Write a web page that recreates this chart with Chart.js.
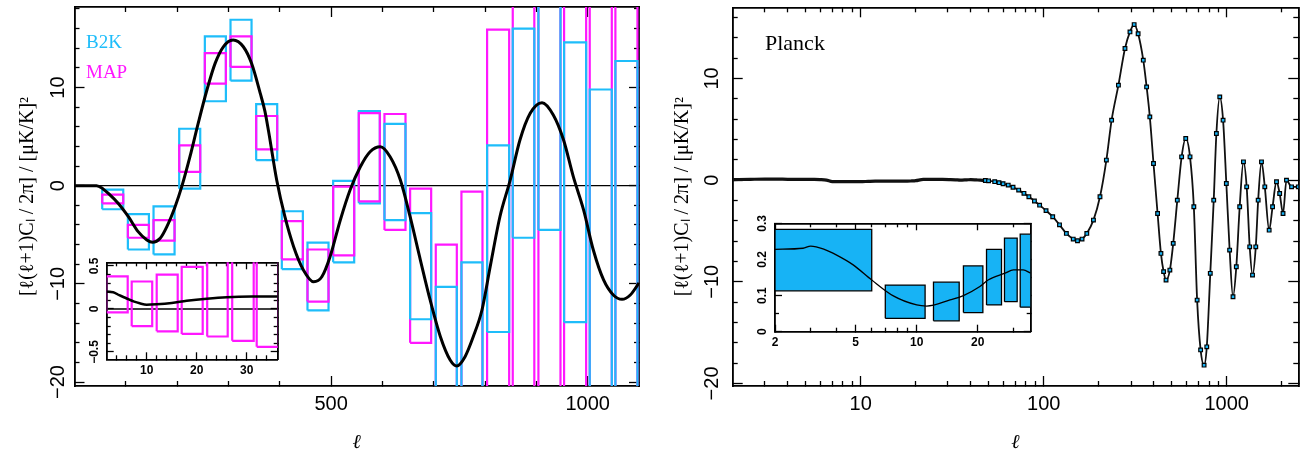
<!DOCTYPE html>
<html lang="en">
<head>
    <meta charset="UTF-8">
    <title>B2K / MAP / Planck</title>
    <script src="https://cdn.jsdelivr.net/npm/chart.js"></script>
    <style>
        body {
            margin: 0;
            width: 1305px;
            height: 455px;
            background: #fff;
            position: relative;
            overflow: hidden;
        }
        .panel {
            position: absolute;
        }
    </style>
</head>
<body>
    <div class="panel" style="left:0;top:0;width:650px;height:455px"><canvas id="left"></canvas></div>
    <div class="panel" style="left:70px;top:250px;width:215px;height:135px"><canvas id="leftInset"></canvas></div>
    <div class="panel" style="left:650px;top:0;width:655px;height:455px"><canvas id="right"></canvas></div>
    <div class="panel" style="left:740px;top:212px;width:300px;height:145px"><canvas id="rightInset"></canvas></div>

    <script>
        // left panel: band powers in bins of l
        const binLo = [54, 104, 154, 204, 254, 304, 354, 404, 454, 504, 554, 604, 654, 704, 754, 804, 854, 904, 954, 1004, 1054];
        const binHi = [95, 145, 195, 245, 295, 345, 395, 445, 495, 545, 595, 645, 695, 745, 795, 847, 896, 947, 997, 1047, 1097];
        const b2kLow  = [-2.4, -6.5, -7.0, -0.3, 8.6, 10.7, 2.6, -8.5, -12.7, -7.8, -1.8, -3.5, -13.6, -30, -30, -14.9, -5.3, -4.5, -13.9, -30, -30];
        const b2kHigh = [-0.4, -2.9, -2.1, 5.8, 15.2, 16.9, 8.3, -2.6, -5.8, 0.5, 7.6, 6.3, -2.8, -10.3, -7.8, 4.1, 16.0, 30, 14.6, 9.8, 12.7];
        const mapLow  = [-1.8, -5.3, -5.6, 1.4, 10.4, 12.1, 3.7, -7.5, -11.8, -7.1, -1.6, -4.5, -16.0, -30, -30, -30, -30, -30, -30, -30, -30];
        const mapHigh = [-0.9, -4.0, -3.5, 4.1, 13.5, 15.2, 7.1, -3.6, -6.5, -0.1, 7.4, 7.3, -0.3, -6.0, -0.6, 15.9, 30, 30, 30, 30, 30];

        const modelL = [0, 20, 43, 55, 66, 85, 105, 124, 141, 152, 167, 180, 196, 209, 225, 241, 258, 274, 290, 309, 329, 345, 362, 371, 378, 394,
                        410, 427, 446, 466, 482, 498, 518, 537, 557, 576, 596, 615, 635, 654, 674, 693, 713, 732, 745, 761, 777, 794,
                        810, 829, 849, 868, 888, 911, 933, 953, 972, 992, 1011, 1031, 1050, 1067, 1083, 1100];
        const modelV = [0, 0, 0, -0.3, -0.78, -1.79, -3.16, -4.68, -5.53, -5.77, -5.36, -4.17, -2.14, -0.1, 2.95, 6.35, 9.75, 12.46, 14.15, 14.84, 14.15, 12.46, 9.4, 7.6, 5.6, 0.58,
                        -3.16, -6.21, -8.58, -9.78, -9.27, -7.23, -3.49, -0.44, 1.93, 3.46, 3.97, 2.95, 0.58, -3.16, -7.57, -11.64, -15.38, -17.75, -18.36, -17.41, -15.38, -12.66,
                        -8.25, -3.16, 0.58, 4.65, 7.37, 8.45, 7.2, 4.65, 0.92, -2.47, -6.55, -9.6, -11.13, -11.57, -11.13, -9.9];

        // left inset: low-l MAP bins
        const lowBinLo = [1.9, 7, 12, 17, 22.1, 27.1, 32];
        const lowBinHi = [6.2, 11.1, 16.2, 21.2, 26.2, 31.4, 36.4];
        const lowMapLow  = [-0.04, -0.20, -0.26, -0.29, -0.32, -0.37, -0.44];
        const lowMapHigh = [0.38, 0.32, 0.40, 0.49, 0.9, 0.9, 0.9];
        const lowModelL = [2, 3.3, 4.5, 5.9, 7.5, 8.6, 10, 12, 15, 18, 22, 26, 31, 36.2];
        const lowModelV = [0.20, 0.195, 0.16, 0.125, 0.085, 0.066, 0.05, 0.055, 0.07, 0.095, 0.12, 0.138, 0.145, 0.145];

        // right panel: Planck
        const planckL = [2, 2.5, 3, 3.5, 4, 4.5, 5, 5.5, 6, 6.5, 7, 7.5, 8, 8.5, 9, 9.5, 10, 11, 12, 13, 14, 15, 16, 17, 18, 19, 20, 22, 24, 26, 28, 31, 33, 35, 38, 40, 43, 45, 48, 50, 54, 57, 60, 64, 68, 73, 78, 83, 89, 95, 103, 112, 122, 133, 145, 153, 162, 172, 187, 203,
                         220, 235, 256, 278, 296, 312, 328, 350, 365, 380, 398, 419, 437, 452, 466, 489, 510, 537, 567, 597, 630, 661, 689, 720, 752, 778,
                         813, 849, 878, 916, 955, 995, 1037, 1082, 1128, 1177, 1234, 1285, 1335, 1383, 1441, 1485, 1548, 1614, 1705, 1780, 1870, 1946, 2030, 2120, 2260, 2460];
        const planckV = [0.05, 0.08, 0.1, 0.1, 0.08, 0.08, 0.08, 0.07, 0.05, 0, -0.15, -0.15, -0.15, -0.15, -0.15, -0.15, -0.15, -0.12, -0.1, -0.1, -0.1, -0.1, -0.1, -0.1, -0.1, -0.08, -0.05, 0.07, 0.07, 0.07, 0.07, 0.05, 0.03, 0, 0.03, 0.05, 0.02, 0, -0.04, -0.07, -0.15, -0.25, -0.35, -0.49, -0.7, -0.98, -1.3, -1.64, -2.05, -2.46, -3.0, -3.6, -4.4, -5.24, -5.8, -5.96, -5.8, -5.24, -3.93, -1.64,
                         1.97, 5.9, 9.34, 12.95, 14.58, 15.3, 14.4, 11.8, 9.17, 6.22, 1.64, -3.28, -7.21, -9.0, -9.83, -8.85, -6.22, -1.97, 2.29, 4.1, 2.29, -2.62, -11.8, -16.7, -18.2, -16.4,
                         -9.17, -1.97, 4.59, 8.19, 5.9, -0.33, -6.88, -11.47, -8.52, -2.62, 1.8, -0.66, -6.56, -9.34, -6.56, -1.97, 1.8, -0.66, -4.92, -2.62, -0.16, -1.31, -3.28, 0, -0.66, -0.66];

        // right inset: low-l Planck bins
        const pBinLo = [2, 7, 12.1, 17, 22.1, 27.1, 32.4];
        const pBinHi = [6, 11, 16.2, 21.2, 26.2, 31.3, 36.5];
        const pLow  = [0.113, 0.037, 0.030, 0.053, 0.074, 0.083, 0.068];
        const pHigh = [0.283, 0.129, 0.137, 0.182, 0.228, 0.259, 0.270];
        const pModelL = [2, 2.75, 3, 3.5, 4.03, 4.86, 6, 7.67, 10, 11.2, 14.6, 17, 20.5, 22.5, 27.3, 30, 33.5, 36.5];
        const pModelV = [0.228, 0.231, 0.237, 0.228, 0.212, 0.185, 0.143, 0.099, 0.074, 0.071, 0.088, 0.10, 0.125, 0.143, 0.162, 0.171, 0.171, 0.162];

        // tick values
        const leftXMajor = [500, 1000];
        const leftXMinor = [100, 200, 300, 400, 600, 700, 800, 900];
        const leftYMajor = [-20, -10, 0, 10];
        const yMinorTicks = [-18, -16, -14, -12, -8, -6, -4, -2, 2, 4, 6, 8, 12, 14, 16, 18];
        const rightXMajor = [10, 100, 1000];
        const rightXMinor = [3, 4, 5, 6, 7, 8, 9, 20, 30, 40, 50, 60, 70, 80, 90, 200, 300, 400, 500, 600, 700, 800, 900, 2000];
        const lowXMajor = [10, 20, 30];
        const lowXMinor = [4, 6, 8, 12, 14, 16, 18, 22, 24, 26, 28, 32, 34];
        const lowYMajor = [-0.5, 0, 0.5];
        const lowYMinor = [-0.4, -0.3, -0.2, -0.1, 0.1, 0.2, 0.3, 0.4];
        const pXMajor = [2, 5, 10, 20];
        const pXMinor = [3, 4, 6, 7, 8, 9, 30];
        const pYMajor = [0, 0.1, 0.2, 0.3];
        const pYMinor = [0.05, 0.15, 0.25];

        const CYAN = '#1ebdfa';
        const MAGENTA = '#ff17ff';
        const FILL = '#17b3f5';

        Chart.defaults.animation = false;
        Chart.defaults.color = '#000';
        Chart.defaults.font.family = 'Liberation Sans';

        const fmt = v => v < 0 ? '\u2212' + Math.abs(v) : String(v);

        function pts(xs, ys) {
            return xs.map((x, i) => ({ x: x, y: ys[i] }));
        }

        // closed outlines, one per bin, split by null points
        function outlines(idx, lo, hi, a, b) {
            const out = [];
            idx.forEach(i => {
                out.push({ x: lo[i], y: a[i] }, { x: hi[i], y: a[i] }, { x: hi[i], y: b[i] },
                         { x: lo[i], y: b[i] }, { x: lo[i], y: a[i] }, { x: lo[i], y: null });
            });
            return out;
        }

        function axis(pos, type, min, max, vals, len, size, weight, labels) {
            return {
                type: type, position: pos, min: min, max: max, weight: weight,
                afterBuildTicks: s => { s.ticks = vals.map(v => ({ value: v })); },
                afterFit: s => {
                    if (s.isHorizontal()) s.height = size; else s.width = size;
                    s.paddingTop = 0; s.paddingBottom = 0; s.paddingLeft = 0; s.paddingRight = 0;
                },
                grid: { drawOnChartArea: false, drawTicks: true, tickLength: -len, tickColor: '#000', tickWidth: 1.3 },
                border: { display: true, color: '#000', width: 1.6 },
                ticks: labels ? Object.assign({ display: true, autoSkip: false, callback: fmt }, labels) : { display: false },
                title: { display: false }
            };
        }

        const notes = {
            id: 'notes',
            beforeDraw(chart, args, opts) {
                if (opts.white) {
                    const a = chart.chartArea;
                    chart.ctx.save();
                    chart.ctx.fillStyle = '#fff';
                    chart.ctx.fillRect(a.left, a.top, a.right - a.left, a.bottom - a.top);
                    chart.ctx.restore();
                }
            },
            afterDatasetsDraw(chart, args, opts) {
                const ctx = chart.ctx;
                (opts.items || []).forEach(it => {
                    ctx.save();
                    ctx.font = it.font;
                    ctx.fillStyle = it.color;
                    ctx.fillText(it.text, it.x, it.y);
                    ctx.restore();
                });
            }
        };

        const all = binLo.map((_, i) => i);
        const b2kInner = all.filter(i => b2kHigh[i] - b2kLow[i] < mapHigh[i] - mapLow[i]);
        const mapInner = all.filter(i => b2kInner.indexOf(i) < 0);
        const boxStyle = { showLine: true, pointRadius: 0, borderWidth: 2.2, spanGaps: false, tension: 0, borderJoinStyle: 'miter' };

        const yTitle = '[\u2113(\u2113+1)C\u2097 / 2\u03c0] / [\u03bcK/K]\u00b2';
        const tickFont = { family: 'Liberation Sans', size: 20 };

        new Chart(document.getElementById('left'), {
            type: 'scatter',
            data: {
                datasets: [
                    { data: pts(modelL, modelV), showLine: true, pointRadius: 0, borderColor: '#000', borderWidth: 3, cubicInterpolationMode: 'monotone' },
                    Object.assign({ data: outlines(mapInner, binLo, binHi, mapLow, mapHigh), borderColor: MAGENTA }, boxStyle),
                    Object.assign({ data: outlines(b2kInner, binLo, binHi, b2kLow, b2kHigh), borderColor: CYAN }, boxStyle),
                    Object.assign({ data: outlines(b2kInner, binLo, binHi, mapLow, mapHigh), borderColor: MAGENTA }, boxStyle),
                    Object.assign({ data: outlines(mapInner, binLo, binHi, b2kLow, b2kHigh), borderColor: CYAN }, boxStyle),
                    { data: [{ x: 0, y: 0 }, { x: 1100, y: 0 }], showLine: true, pointRadius: 0, borderColor: '#000', borderWidth: 1.3 }
                ]
            },
            options: {
                responsive: true,
                maintainAspectRatio: false,
                layout: { padding: { left: 0, top: 7, right: 11, bottom: 0 } },
                plugins: {
                    legend: { display: false },
                    tooltip: { enabled: false },
                    notes: {
                        items: [
                            { text: 'B2K', x: 86, y: 48, color: CYAN, font: '19px "Liberation Serif"' },
                            { text: 'MAP', x: 86, y: 78, color: MAGENTA, font: '19px "Liberation Serif"' }
                        ]
                    }
                },
                scales: {
                    x: Object.assign(axis('bottom', 'linear', 0, 1100, leftXMajor, 10, 69, 1,
                        { font: tickFont, padding: 16 }),
                        { title: { display: true, text: '\u2113', font: { family: 'DejaVu Serif', size: 20, style: 'italic' }, padding: { top: 0, bottom: 0 } } }),
                    xm: axis('bottom', 'linear', 0, 1100, leftXMinor, 5, 0, 0),
                    xt: axis('top', 'linear', 0, 1100, leftXMajor, 10, 0, 0),
                    xtm: axis('top', 'linear', 0, 1100, leftXMinor, 5, 0, 0),
                    y: Object.assign(axis('left', 'linear', -20.4, 18.2, leftYMajor, 10, 74.5, 1,
                        { font: tickFont, padding: 9.5, minRotation: 90, maxRotation: 90, crossAlign: 'center' }),
                        { title: { display: true, text: yTitle, font: { family: 'Liberation Serif', size: 20 }, padding: { top: 16, bottom: 0 } } }),
                    ym: axis('left', 'linear', -20.4, 18.2, yMinorTicks, 5, 0, 0),
                    yr: axis('right', 'linear', -20.4, 18.2, leftYMajor, 10, 0, 0),
                    yrm: axis('right', 'linear', -20.4, 18.2, yMinorTicks, 5, 0, 0)
                }
            },
            plugins: [notes]
        });

        const smallFont = { family: 'Liberation Sans', size: 12, weight: 'bold' };

        new Chart(document.getElementById('leftInset'), {
            type: 'scatter',
            data: {
                datasets: [
                    { data: pts(lowModelL, lowModelV), showLine: true, pointRadius: 0, borderColor: '#000', borderWidth: 2.5, cubicInterpolationMode: 'monotone' },
                    Object.assign({ data: outlines(lowBinLo.map((_, i) => i), lowBinLo, lowBinHi, lowMapLow, lowMapHigh), borderColor: MAGENTA }, boxStyle),
                    { data: [{ x: 2, y: 0 }, { x: 36.2, y: 0 }], showLine: true, pointRadius: 0, borderColor: '#000', borderWidth: 1.3 }
                ]
            },
            options: {
                responsive: true,
                maintainAspectRatio: false,
                layout: { padding: { left: 0, top: 12.3, right: 7.3, bottom: 0 } },
                plugins: { legend: { display: false }, tooltip: { enabled: false }, notes: { white: true } },
                scales: {
                    x: axis('bottom', 'linear', 2, 36.2, lowXMajor, 7, 25.7, 1, { font: smallFont, padding: 11 }),
                    xm: axis('bottom', 'linear', 2, 36.2, lowXMinor, 4, 0, 0),
                    xt: axis('top', 'linear', 2, 36.2, lowXMajor, 7, 0, 0),
                    xtm: axis('top', 'linear', 2, 36.2, lowXMinor, 4, 0, 0),
                    y: axis('left', 'linear', -0.585, 0.543, lowYMajor, 7, 36.7, 1,
                        { font: smallFont, padding: 7, minRotation: 90, maxRotation: 90, crossAlign: 'center' }),
                    ym: axis('left', 'linear', -0.585, 0.543, lowYMinor, 4, 0, 0),
                    yr: axis('right', 'linear', -0.585, 0.543, lowYMajor, 7, 0, 0),
                    yrm: axis('right', 'linear', -0.585, 0.543, lowYMinor, 4, 0, 0)
                }
            },
            plugins: [notes]
        });

        new Chart(document.getElementById('right'), {
            type: 'scatter',
            data: {
                datasets: [
                    {
                        data: pts(planckL, planckV), showLine: true, borderColor: '#111', borderWidth: 1.8,
                        cubicInterpolationMode: 'monotone', pointStyle: 'rect',
                        pointRadius: c => (c.raw && c.raw.x < 48 ? 0 : 2.6),
                        segment: { borderWidth: c => (c.p0.parsed.x < 48 ? 3.2 : 1.8) },
                        pointBackgroundColor: FILL, pointBorderColor: '#000', pointBorderWidth: 1.2
                    }
                ]
            },
            options: {
                responsive: true,
                maintainAspectRatio: false,
                layout: { padding: { left: 0, top: 7.3, right: 6.7, bottom: 0 } },
                plugins: {
                    legend: { display: false },
                    tooltip: { enabled: false },
                    notes: { items: [{ text: 'Planck', x: 115, y: 50, color: '#000', font: '22px "Liberation Serif"' }] }
                },
                scales: {
                    x: Object.assign(axis('bottom', 'logarithmic', 2, 2460, rightXMajor, 10, 69, 1,
                        { font: tickFont, padding: 16 }),
                        { title: { display: true, text: '\u2113', font: { family: 'DejaVu Serif', size: 20, style: 'italic' }, padding: { top: 0, bottom: 0 } } }),
                    xm: axis('bottom', 'logarithmic', 2, 2460, rightXMinor, 5, 0, 0),
                    xt: axis('top', 'logarithmic', 2, 2460, rightXMajor, 10, 0, 0),
                    xtm: axis('top', 'logarithmic', 2, 2460, rightXMinor, 5, 0, 0),
                    y: Object.assign(axis('left', 'linear', -20.25, 17.0, leftYMajor, 10, 82.7, 1,
                        { font: tickFont, padding: 13, minRotation: 90, maxRotation: 90, crossAlign: 'center' }),
                        { title: { display: true, text: yTitle, font: { family: 'Liberation Serif', size: 20 }, padding: { top: 21, bottom: 0 } } }),
                    ym: axis('left', 'linear', -20.25, 17.0, yMinorTicks, 5, 0, 0),
                    yr: axis('right', 'linear', -20.25, 17.0, leftYMajor, 10, 0, 0),
                    yrm: axis('right', 'linear', -20.25, 17.0, yMinorTicks, 5, 0, 0)
                }
            },
            plugins: [notes]
        });

        new Chart(document.getElementById('rightInset'), {
            type: 'scatter',
            data: {
                datasets: [
                    { data: pts(pModelL, pModelV), showLine: true, pointRadius: 0, borderColor: '#000', borderWidth: 1.3, cubicInterpolationMode: 'monotone' },
                    Object.assign({}, boxStyle, {
                        data: outlines(pBinLo.map((_, i) => i), pBinLo, pBinHi, pLow, pHigh),
                        borderColor: '#000', borderWidth: 1.3, backgroundColor: FILL, fill: 'shape'
                    })
                ]
            },
            options: {
                responsive: true,
                maintainAspectRatio: false,
                layout: { padding: { left: 0, top: 11.3, right: 9.3, bottom: 0 } },
                plugins: { legend: { display: false }, tooltip: { enabled: false }, notes: { white: true } },
                scales: {
                    x: axis('bottom', 'logarithmic', 2, 36.5, pXMajor, 7, 25.3, 1, { font: smallFont, padding: 11 }),
                    xm: axis('bottom', 'logarithmic', 2, 36.5, pXMinor, 4, 0, 0),
                    xt: axis('top', 'logarithmic', 2, 36.5, pXMajor, 7, 0, 0),
                    xtm: axis('top', 'logarithmic', 2, 36.5, pXMinor, 4, 0, 0),
                    y: axis('left', 'linear', 0, 0.3, pYMajor, 7, 35, 1,
                        { font: smallFont, padding: 11, minRotation: 90, maxRotation: 90, crossAlign: 'center' }),
                    ym: axis('left', 'linear', 0, 0.3, pYMinor, 4, 0, 0),
                    yr: axis('right', 'linear', 0, 0.3, pYMajor, 7, 0, 0),
                    yrm: axis('right', 'linear', 0, 0.3, pYMinor, 4, 0, 0)
                }
            },
            plugins: [notes]
        });
    </script>
</body>
</html>
